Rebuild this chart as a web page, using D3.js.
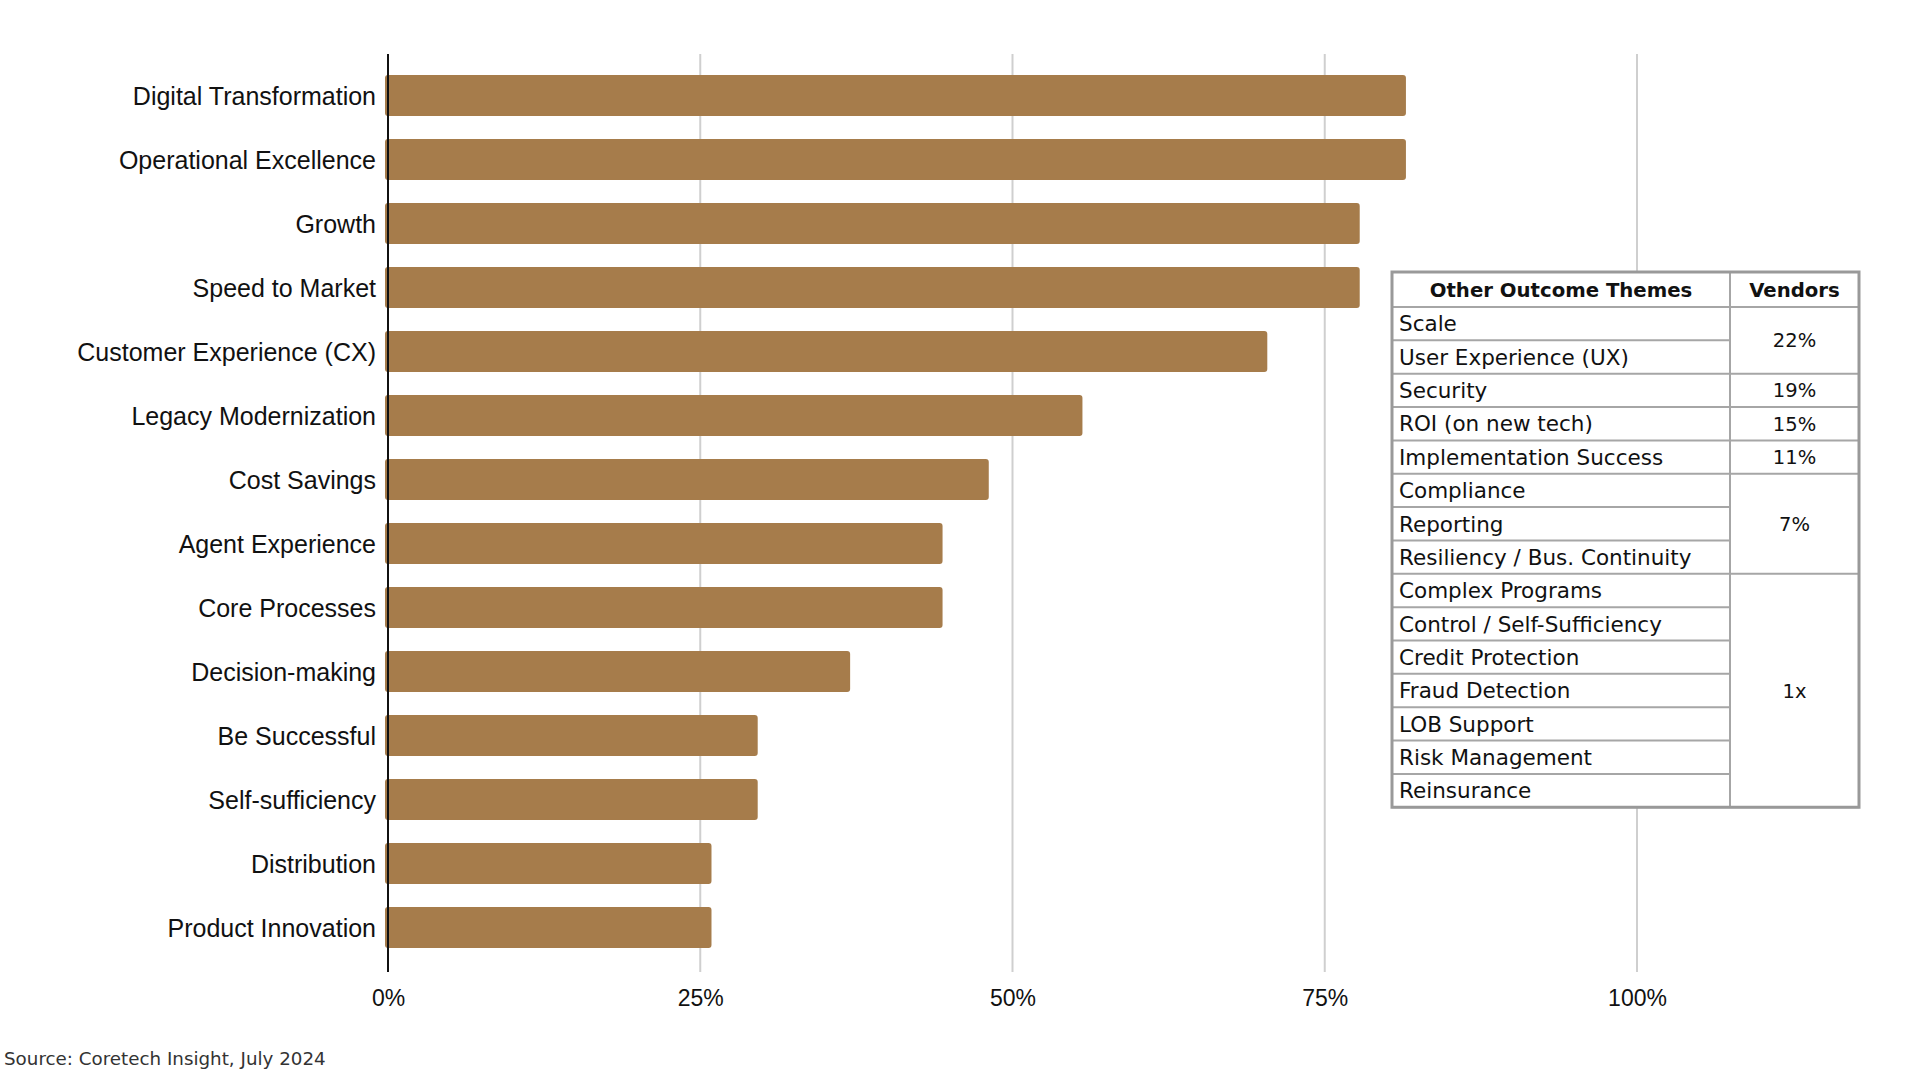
<!DOCTYPE html>
<html>
<head>
<meta charset="utf-8">
<script src="https://cdn.jsdelivr.net/npm/d3@7"></script>
<style>
  html, body { margin: 0; padding: 0; background: #fff; }
  svg { display: block; }
</style>
</head>
<body>
<svg id="chart" width="1920" height="1080"></svg>
<script>
// ---- data ----
const categories = [
  "Digital Transformation", "Operational Excellence", "Growth", "Speed to Market",
  "Customer Experience (CX)", "Legacy Modernization", "Cost Savings", "Agent Experience",
  "Core Processes", "Decision-making", "Be Successful", "Self-sufficiency",
  "Distribution", "Product Innovation"
];
const values = [81.5, 81.5, 77.8, 77.8, 70.4, 55.6, 48.1, 44.4, 44.4, 37.0, 29.6, 29.6, 25.9, 25.9];
const tickValues = [0, 25, 50, 75, 100];
const tickLabels = ["0%", "25%", "50%", "75%", "100%"];

const tableHeaders = ["Other Outcome Themes", "Vendors"];
const otherThemes = [
  "Scale", "User Experience (UX)", "Security", "ROI (on new tech)", "Implementation Success",
  "Compliance", "Reporting", "Resiliency / Bus. Continuity", "Complex Programs",
  "Control / Self-Sufficiency", "Credit Protection", "Fraud Detection", "LOB Support",
  "Risk Management", "Reinsurance"
];
const vendorLabels = ["22%", "19%", "15%", "11%", "7%", "1x"];
const vendorSpans = [2, 1, 1, 1, 3, 7];
const sourceText = "Source: Coretech Insight, July 2024";

// ---- layout ----
const svg = d3.select("#chart");
const x0 = 388, x1 = 1637;
const yTop = 54, yBottom = 972;

const x = d3.scaleLinear().domain([0, 100]).range([x0, x1]);
const y = d3.scaleBand().domain(categories).range([63.5, 959.5])
  .paddingInner(0.36).paddingOuter(0.18);

// gridlines
svg.append("g").selectAll("line")
  .data(tickValues.filter(d => d > 0))
  .join("line")
  .attr("x1", d => x(d)).attr("x2", d => x(d))
  .attr("y1", yTop).attr("y2", yBottom)
  .attr("stroke", "#cfcfcf").attr("stroke-width", 2);

// bars
svg.append("g").selectAll("rect")
  .data(categories)
  .join("rect")
  .attr("x", x(0) - 3)
  .attr("y", d => y(d))
  .attr("width", (d, i) => x(values[i]) - x(0) + 3)
  .attr("height", y.bandwidth())
  .attr("rx", 3).attr("ry", 3)
  .attr("fill", "#a67c4b");

// axis line (0)
svg.append("line")
  .attr("x1", x(0)).attr("x2", x(0))
  .attr("y1", yTop).attr("y2", yBottom)
  .attr("stroke", "#111").attr("stroke-width", 2);

// category labels
svg.append("g").selectAll("text")
  .data(categories)
  .join("text")
  .attr("x", x(0) - 12)
  .attr("y", d => y(d) + y.bandwidth() / 2)
  .attr("dy", "0.36em")
  .attr("text-anchor", "end")
  .attr("font-family", "'Liberation Sans', Arial, sans-serif")
  .attr("font-size", 25)
  .attr("fill", "#111")
  .text(d => d);

// tick labels
const xAxis = d3.axisBottom(x).tickValues(tickValues)
  .tickFormat((d, i) => tickLabels[i]).tickSize(0).tickPadding(0);
const ax = svg.append("g").attr("transform", `translate(0, ${yBottom + 18})`).call(xAxis);
ax.select(".domain").remove();
ax.selectAll("text")
  .attr("font-family", "'Liberation Sans', Arial, sans-serif")
  .attr("font-size", 23)
  .attr("fill", "#111");

// source
svg.append("text")
  .attr("x", 4).attr("y", 1065)
  .attr("font-family", "'DejaVu Sans', sans-serif")
  .attr("font-size", 18.3)
  .attr("fill", "#333")
  .text(sourceText);

// ---- table ----
const tLeft = 1392, tRight = 1859, tTop = 272, headH = 35, rowH = 33.35;
const colDiv = 1730;
const tBottom = tTop + headH + rowH * otherThemes.length;
const tg = svg.append("g");
tg.append("rect").attr("x", tLeft).attr("y", tTop)
  .attr("width", tRight - tLeft).attr("height", tBottom - tTop)
  .attr("fill", "#fff");

const tableFont = "'DejaVu Sans', sans-serif";
const rowY = i => tTop + headH + rowH * i;

// theme row lines
tg.selectAll("line.rowl")
  .data(d3.range(otherThemes.length + 1))
  .join("line").attr("class", "rowl")
  .attr("x1", tLeft).attr("x2", colDiv)
  .attr("y1", i => rowY(i)).attr("y2", i => rowY(i))
  .attr("stroke", "#a6a6a6").attr("stroke-width", 2);

// vendor group lines
const groupStarts = vendorSpans.map((s, i) => d3.sum(vendorSpans.slice(0, i)));
tg.selectAll("line.grpl")
  .data(groupStarts.concat([otherThemes.length]))
  .join("line").attr("class", "grpl")
  .attr("x1", colDiv).attr("x2", tRight)
  .attr("y1", s => rowY(s)).attr("y2", s => rowY(s))
  .attr("stroke", "#a6a6a6").attr("stroke-width", 2);

// column divider
tg.append("line").attr("x1", colDiv).attr("x2", colDiv)
  .attr("y1", tTop).attr("y2", tBottom)
  .attr("stroke", "#a6a6a6").attr("stroke-width", 2);

// outer border
tg.append("rect").attr("x", tLeft).attr("y", tTop)
  .attr("width", tRight - tLeft).attr("height", tBottom - tTop)
  .attr("fill", "none").attr("stroke", "#999").attr("stroke-width", 3);

// headers
tg.selectAll("text.hdr")
  .data(tableHeaders)
  .join("text").attr("class", "hdr")
  .attr("x", (d, i) => i === 0 ? (tLeft + colDiv) / 2 : (colDiv + tRight) / 2)
  .attr("y", tTop + headH / 2)
  .attr("dy", "0.36em")
  .attr("text-anchor", "middle")
  .attr("font-family", tableFont)
  .attr("font-weight", 700)
  .attr("font-size", 19.7)
  .attr("fill", "#111")
  .text(d => d);

// theme texts
tg.selectAll("text.theme")
  .data(otherThemes)
  .join("text").attr("class", "theme")
  .attr("x", tLeft + 7)
  .attr("y", (d, i) => rowY(i) + rowH / 2)
  .attr("dy", "0.36em")
  .attr("font-family", tableFont)
  .attr("font-size", 21.5)
  .attr("fill", "#111")
  .text(d => d);

// vendor texts
tg.selectAll("text.vend")
  .data(vendorLabels)
  .join("text").attr("class", "vend")
  .attr("x", (colDiv + tRight) / 2)
  .attr("y", (d, i) => rowY(groupStarts[i]) + rowH * vendorSpans[i] / 2)
  .attr("dy", "0.36em")
  .attr("text-anchor", "middle")
  .attr("font-family", tableFont)
  .attr("font-size", 19.5)
  .attr("fill", "#111")
  .text(d => d);
</script>
</body>
</html>
